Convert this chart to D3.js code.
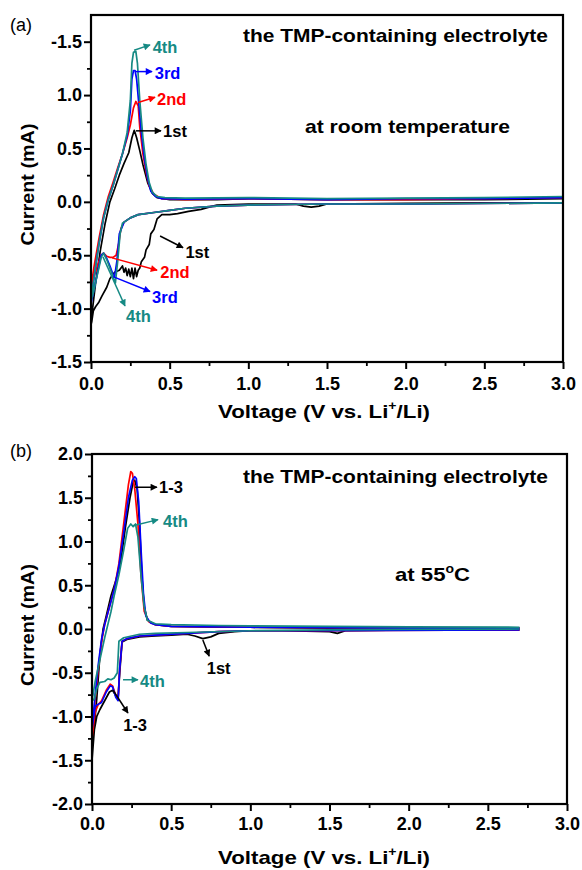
<!DOCTYPE html>
<html><head><meta charset="utf-8">
<script src="https://cdn.jsdelivr.net/npm/d3@7"></script>
<style>body{margin:0;background:#fff}svg{display:block}</style>
</head><body>
<svg id="c" width="582" height="870"></svg>
<script>
// ---------- DATA ----------
const xTicks = [0, 0.5, 1.0, 1.5, 2.0, 2.5, 3.0];
const aYTicks = [-1.5, -1.0, -0.5, 0.0, 0.5, 1.0, 1.5];
const aYTickLabels = ["-1.5", "-1.0", "-0.5", "0.0", "0.5", "1.0", "-1.5"];
const bYTicks = [-2.0, -1.5, -1.0, -0.5, 0.0, 0.5, 1.0, 1.5, 2.0];
const bYTickLabels = ["-2.0", "-1.5", "-1.0", "-0.5", "0.0", "0.5", "1.0", "1.5", "2.0"];

// panel (a): room temperature, [voltage, current]
const a1st = [[3.0,-0.01],[2.5,-0.01],[2.0,-0.015],[1.5,-0.02],[1.45,-0.04],[1.4,-0.05],[1.35,-0.04],[1.3,-0.02],[1.0,-0.02],[0.8,-0.03],[0.75,-0.05],[0.7,-0.07],[0.62,-0.09],[0.55,-0.11],[0.5,-0.12],[0.45,-0.12],[0.42,-0.16],[0.4,-0.26],[0.38,-0.3],[0.37,-0.4],[0.35,-0.45],[0.34,-0.52],[0.32,-0.56],[0.31,-0.62],[0.3,-0.64],[0.29,-0.7],[0.28,-0.62],[0.27,-0.72],[0.26,-0.62],[0.25,-0.7],[0.24,-0.63],[0.23,-0.69],[0.22,-0.62],[0.21,-0.66],[0.2,-0.6],[0.18,-0.64],[0.15,-0.66],[0.12,-0.72],[0.1,-0.8],[0.07,-0.88],[0.05,-0.94],[0.03,-0.98],[0.015,-1.02],[0.005,-1.12],[0.0,-1.15],
  [0.01,-1.0],[0.03,-0.75],[0.06,-0.45],[0.09,-0.2],[0.12,0.0],[0.15,0.12],[0.18,0.25],[0.21,0.36],[0.24,0.46],[0.26,0.6],[0.275,0.67],[0.29,0.6],[0.31,0.48],[0.33,0.35],[0.36,0.18],[0.39,0.08],[0.42,0.04],[0.5,0.02],[0.8,0.02],[1.0,0.03],[1.5,0.02],[2.0,0.02],[2.5,0.02],[3.0,0.03]];
const a2nd = [[3.0,-0.01],[2.0,-0.02],[1.5,-0.02],[1.0,-0.03],[0.8,-0.04],[0.6,-0.06],[0.5,-0.08],[0.4,-0.1],[0.3,-0.12],[0.25,-0.15],[0.21,-0.19],[0.19,-0.25],[0.175,-0.4],[0.16,-0.5],[0.14,-0.52],[0.12,-0.52],[0.1,-0.51],[0.08,-0.48],[0.065,-0.5],[0.05,-0.56],[0.03,-0.65],[0.015,-0.72],[0.0,-0.8],
  [0.02,-0.6],[0.05,-0.35],[0.08,-0.12],[0.11,0.05],[0.14,0.18],[0.17,0.32],[0.2,0.45],[0.23,0.6],[0.25,0.72],[0.27,0.88],[0.285,0.94],[0.3,0.9],[0.31,0.7],[0.33,0.45],[0.35,0.28],[0.37,0.15],[0.4,0.07],[0.45,0.03],[0.6,0.02],[1.0,0.03],[1.5,0.02],[2.0,0.02],[2.5,0.03],[3.0,0.04]];
const a3rd = [[3.0,-0.01],[2.0,-0.02],[1.5,-0.02],[1.0,-0.03],[0.8,-0.04],[0.6,-0.06],[0.5,-0.08],[0.4,-0.1],[0.3,-0.12],[0.25,-0.15],[0.21,-0.19],[0.18,-0.3],[0.165,-0.55],[0.15,-0.7],[0.14,-0.68],[0.12,-0.6],[0.1,-0.53],[0.08,-0.48],[0.065,-0.5],[0.05,-0.6],[0.03,-0.75],[0.015,-0.85],[0.0,-0.95],
  [0.02,-0.7],[0.05,-0.4],[0.08,-0.15],[0.11,0.02],[0.14,0.15],[0.17,0.3],[0.2,0.45],[0.23,0.62],[0.25,0.85],[0.26,1.15],[0.27,1.23],[0.28,1.23],[0.29,1.15],[0.305,0.9],[0.32,0.65],[0.34,0.4],[0.36,0.22],[0.38,0.1],[0.41,0.05],[0.45,0.03],[0.6,0.025],[1.0,0.03],[1.5,0.02],[2.0,0.03],[2.5,0.03],[3.0,0.04]];
const a4th = [[3.0,-0.01],[2.0,-0.02],[1.5,-0.02],[1.0,-0.03],[0.8,-0.04],[0.6,-0.06],[0.5,-0.08],[0.4,-0.1],[0.3,-0.12],[0.25,-0.15],[0.2,-0.2],[0.185,-0.3],[0.17,-0.55],[0.155,-0.76],[0.14,-0.7],[0.12,-0.62],[0.1,-0.54],[0.08,-0.48],[0.065,-0.52],[0.05,-0.62],[0.03,-0.75],[0.015,-0.85],[0.0,-0.93],
  [0.02,-0.7],[0.05,-0.4],[0.08,-0.15],[0.11,0.02],[0.14,0.15],[0.17,0.3],[0.2,0.45],[0.23,0.65],[0.25,0.95],[0.26,1.3],[0.27,1.4],[0.285,1.41],[0.295,1.3],[0.31,0.95],[0.33,0.6],[0.35,0.35],[0.37,0.18],[0.39,0.09],[0.42,0.05],[0.47,0.04],[0.6,0.035],[1.0,0.04],[1.5,0.03],[2.0,0.035],[2.5,0.04],[3.0,0.05]];

// panel (b): 55 °C
const b1st = [[2.7,-0.01],[2.0,-0.01],[1.6,-0.02],[1.55,-0.05],[1.5,-0.03],[1.2,-0.02],[1.0,-0.02],[0.9,-0.03],[0.8,-0.05],[0.75,-0.09],[0.7,-0.11],[0.65,-0.08],[0.6,-0.06],[0.5,-0.07],[0.4,-0.08],[0.3,-0.09],[0.22,-0.12],[0.19,-0.15],[0.175,-0.5],[0.165,-0.78],[0.15,-0.76],[0.13,-0.7],[0.11,-0.72],[0.08,-0.82],[0.05,-0.92],[0.03,-1.0],[0.015,-1.15],[0.0,-1.5],
  [0.01,-1.2],[0.03,-0.8],[0.05,-0.3],[0.07,0.0],[0.09,0.15],[0.12,0.38],[0.15,0.55],[0.18,0.75],[0.21,1.15],[0.24,1.5],[0.26,1.68],[0.27,1.7],[0.285,1.6],[0.3,1.2],[0.315,0.6],[0.33,0.25],[0.35,0.1],[0.4,0.05],[0.5,0.03],[0.8,0.02],[1.0,0.02],[1.5,0.01],[2.0,0.01],[2.7,0.01]];
const b2nd = [[2.7,-0.01],[1.5,-0.02],[1.0,-0.02],[0.8,-0.03],[0.6,-0.05],[0.4,-0.07],[0.3,-0.08],[0.22,-0.11],[0.19,-0.14],[0.175,-0.45],[0.165,-0.8],[0.15,-0.76],[0.13,-0.65],[0.115,-0.63],[0.09,-0.7],[0.06,-0.82],[0.04,-0.86],[0.02,-0.95],[0.0,-1.25],
  [0.02,-0.8],[0.04,-0.45],[0.06,-0.15],[0.08,0.05],[0.11,0.25],[0.14,0.45],[0.17,0.75],[0.2,1.2],[0.23,1.65],[0.245,1.8],[0.255,1.78],[0.27,1.6],[0.29,1.2],[0.31,0.6],[0.33,0.2],[0.36,0.08],[0.4,0.05],[0.5,0.03],[1.0,0.02],[2.0,0.01],[2.7,0.01]];
const b3rd = [[2.7,-0.01],[1.5,-0.02],[1.0,-0.02],[0.8,-0.03],[0.6,-0.05],[0.4,-0.07],[0.3,-0.08],[0.22,-0.11],[0.19,-0.14],[0.175,-0.45],[0.165,-0.82],[0.15,-0.78],[0.13,-0.66],[0.115,-0.65],[0.09,-0.72],[0.06,-0.84],[0.04,-0.86],[0.02,-0.88],[0.0,-1.15],
  [0.02,-0.75],[0.04,-0.4],[0.06,-0.12],[0.08,0.05],[0.11,0.25],[0.14,0.45],[0.17,0.72],[0.2,1.1],[0.23,1.5],[0.255,1.7],[0.27,1.74],[0.28,1.72],[0.295,1.45],[0.31,0.9],[0.325,0.4],[0.34,0.15],[0.37,0.07],[0.4,0.05],[0.5,0.03],[1.0,0.02],[2.0,0.01],[2.7,0.01]];
const b4th = [[2.7,0.0],[2.0,-0.005],[1.5,-0.01],[1.0,-0.02],[0.6,-0.04],[0.4,-0.05],[0.3,-0.06],[0.2,-0.1],[0.17,-0.14],[0.16,-0.5],[0.14,-0.56],[0.12,-0.58],[0.1,-0.57],[0.08,-0.6],[0.05,-0.61],[0.03,-0.68],[0.015,-0.8],[0.0,-0.82],
  [0.02,-0.6],[0.05,-0.35],[0.08,-0.1],[0.1,0.05],[0.12,0.2],[0.14,0.38],[0.17,0.62],[0.2,0.9],[0.225,1.15],[0.245,1.2],[0.26,1.17],[0.275,1.2],[0.29,1.05],[0.31,0.6],[0.33,0.25],[0.35,0.1],[0.4,0.06],[0.5,0.05],[0.8,0.04],[1.0,0.035],[1.5,0.03],[2.0,0.025],[2.7,0.02]];

const colors = {black:"#000000", red:"#ff0000", blue:"#0000ff", teal:"#168a84"};

// annotations: arrow from [V,I] to [V,I], label at [V,I]
const aNotes = [
  {c:"teal", t:"4th", from:[0.274,1.42], to:[0.375,1.47], at:[0.392,1.45], anchor:"start"},
  {c:"blue", t:"3rd", from:[0.286,1.22], to:[0.388,1.22], at:[0.405,1.21], anchor:"start"},
  {c:"red", t:"2nd", from:[0.299,0.93], to:[0.407,0.98], at:[0.42,0.965], anchor:"start"},
  {c:"black", t:"1st", from:[0.286,0.665], to:[0.445,0.665], at:[0.458,0.665], anchor:"start"},
  {c:"black", t:"1st", from:[0.439,-0.32], to:[0.585,-0.43], at:[0.6,-0.47], anchor:"start"},
  {c:"red", t:"2nd", from:[0.134,-0.525], to:[0.42,-0.64], at:[0.44,-0.655], anchor:"start"},
  {c:"blue", t:"3rd", from:[0.14,-0.7], to:[0.375,-0.84], at:[0.388,-0.89], anchor:"start"},
  {c:"teal", t:"4th", from:[0.076,-0.515], to:[0.216,-0.975], at:[0.223,-1.07], anchor:"start"}
];
const bNotes = [
  {c:"black", t:"1-3", from:[0.272,1.62], to:[0.41,1.62], at:[0.423,1.62], anchor:"start"},
  {c:"teal", t:"4th", from:[0.259,1.18], to:[0.417,1.25], at:[0.449,1.23], anchor:"start"},
  {c:"teal", t:"4th", from:[0.196,-0.58], to:[0.29,-0.58], at:[0.303,-0.6], anchor:"start"},
  {c:"black", t:"1-3", from:[0.133,-0.7], to:[0.227,-0.96], at:[0.272,-1.1], anchor:"middle"},
  {c:"black", t:"1st", from:[0.7,-0.125], to:[0.74,-0.31], at:[0.8,-0.45], anchor:"middle"}
];

// ---------- DRAW ----------
const svg = d3.select("#c");
const FONT = "'Liberation Sans', Arial, sans-serif";
const defs = svg.append("defs");
Object.entries(colors).forEach(([k,v]) => {
  defs.append("marker").attr("id","arr-"+k).attr("viewBox","0 0 10 10")
    .attr("refX",9).attr("refY",5).attr("markerWidth",9).attr("markerHeight",7)
    .attr("markerUnits","userSpaceOnUse").attr("orient","auto")
    .append("path").attr("d","M0,0 L10,5 L0,10 Z").attr("fill",v);
});

function panel(o) {
  const x = d3.scaleLinear().domain([0,3]).range([o.left, o.right]);
  const y = d3.scaleLinear().domain(o.yDomain).range([o.bottom, o.top]);
  const g = svg.append("g");

  // minor ticks
  const xMinor = d3.range(0.25, 3.0, 0.5);
  const yMinor = d3.range(o.yDomain[0] + 0.25, o.yDomain[1], 0.5);
  g.append("g").attr("transform",`translate(0,${o.bottom})`)
    .call(d3.axisBottom(x).tickValues(xMinor).tickSize(4).tickFormat(""))
    .call(a => a.select(".domain").remove())
    .selectAll("line").attr("stroke-width",1.8);
  g.append("g").attr("transform",`translate(${o.left},0)`)
    .call(d3.axisLeft(y).tickValues(yMinor).tickSize(4).tickFormat(""))
    .call(a => a.select(".domain").remove())
    .selectAll("line").attr("stroke-width",1.8);

  // major
  const xa = g.append("g").attr("transform",`translate(0,${o.bottom})`)
    .call(d3.axisBottom(x).tickValues(xTicks).tickSize(7).tickPadding(o.xPad).tickFormat(d3.format(".1f")));
  xa.select(".domain").remove();
  xa.selectAll("line").attr("stroke-width",2);
  xa.selectAll("text").attr("font-family",FONT).attr("font-weight","bold").attr("font-size",18).attr("fill","#000");

  const ya = g.append("g").attr("transform",`translate(${o.left},0)`)
    .call(d3.axisLeft(y).tickValues(o.yTicks).tickSize(7).tickPadding(2).tickFormat((d,i)=>o.yLabels[i]));
  ya.select(".domain").remove();
  ya.selectAll("line").attr("stroke-width",2);
  ya.selectAll("text").attr("font-family",FONT).attr("font-weight","bold").attr("font-size",18).attr("fill","#000");

  // clip
  const cid = "clip"+o.id;
  defs.append("clipPath").attr("id",cid).append("rect")
    .attr("x",o.left).attr("y",o.top).attr("width",o.right-o.left).attr("height",o.bottom-o.top);

  const line = d3.line().x(d=>x(d[0])).y(d=>y(d[1])).curve(d3.curveLinear);
  const cg = g.append("g").attr("clip-path",`url(#${cid})`);
  o.series.forEach(s => {
    cg.append("path").datum(s.data).attr("d",line).attr("fill","none")
      .attr("stroke",colors[s.c]).attr("stroke-width",1.7).attr("stroke-linejoin","round");
  });

  // frame
  g.append("rect").attr("x",o.left).attr("y",o.top).attr("width",o.right-o.left).attr("height",o.bottom-o.top)
    .attr("fill","none").attr("stroke","#000").attr("stroke-width",2.2);

  // annotations
  o.notes.forEach(n => {
    g.append("line").attr("x1",x(n.from[0])).attr("y1",y(n.from[1])).attr("x2",x(n.to[0])).attr("y2",y(n.to[1]))
      .attr("stroke",colors[n.c]).attr("stroke-width",1.5).attr("marker-end",`url(#arr-${n.c})`);
    g.append("text").attr("x",x(n.at[0])).attr("y",y(n.at[1])).attr("dy","0.36em")
      .attr("text-anchor",n.anchor).attr("font-family",FONT).attr("font-weight","bold").attr("font-size",16.5)
      .attr("fill",colors[n.c]).text(n.t);
  });

  // texts
  g.append("text").attr("x",243).attr("y",o.titleY)
    .attr("font-family",FONT).attr("font-weight","bold").attr("font-size",18.5)
    .attr("textLength",305).attr("lengthAdjust","spacingAndGlyphs").text("the TMP-containing electrolyte");
  o.sub(g);

  g.append("text").attr("x",10).attr("y",o.panelY).attr("font-family",FONT).attr("font-size",18).text(o.id === "a" ? "(a)" : "(b)");

  // axis titles
  const xt = g.append("text").attr("x",218).attr("y",o.xTitleY)
    .attr("font-family",FONT).attr("font-weight","bold").attr("font-size",19)
    .attr("textLength",212).attr("lengthAdjust","spacingAndGlyphs");
  xt.append("tspan").text("Voltage (V vs. Li");
  xt.append("tspan").attr("dy",-8).attr("font-size",12).text("+");
  xt.append("tspan").attr("dy",8).text("/Li)");

  g.append("text").attr("transform",`translate(34,${(o.top+o.bottom)/2 - 4}) rotate(-90)`)
    .attr("text-anchor","middle").attr("font-family",FONT).attr("font-weight","bold").attr("font-size",19)
    .attr("textLength",122).attr("lengthAdjust","spacingAndGlyphs")
    .text("Current (mA)");
}

panel({
  id:"a", left:91, right:563, top:15, bottom:362, yDomain:[-1.5,1.75],
  yTicks:aYTicks, yLabels:aYTickLabels, panelY:31, titleY:42, xTitleY:418, xPad:8,
  series:[{c:"black",data:a1st},{c:"red",data:a2nd},{c:"blue",data:a3rd},{c:"teal",data:a4th}],
  notes:aNotes,
  sub: g => g.append("text").attr("x",305).attr("y",133)
    .attr("font-family",FONT).attr("font-weight","bold").attr("font-size",18.5)
    .attr("textLength",205).attr("lengthAdjust","spacingAndGlyphs").text("at room temperature")
});

panel({
  id:"b", left:92, right:567, top:454, bottom:804, yDomain:[-2,2],
  yTicks:bYTicks, yLabels:bYTickLabels, panelY:457, titleY:483, xTitleY:864, xPad:6,
  series:[{c:"black",data:b1st},{c:"red",data:b2nd},{c:"blue",data:b3rd},{c:"teal",data:b4th}],
  notes:bNotes,
  sub: g => {
    const t = g.append("text").attr("x",395).attr("y",581)
      .attr("font-family",FONT).attr("font-weight","bold").attr("font-size",19)
      .attr("textLength",75).attr("lengthAdjust","spacingAndGlyphs");
    t.append("tspan").text("at 55");
    t.append("tspan").attr("dy",-8).attr("font-size",12).text("o");
    t.append("tspan").attr("dy",8).text("C");
  }
});
</script>
</body></html>
